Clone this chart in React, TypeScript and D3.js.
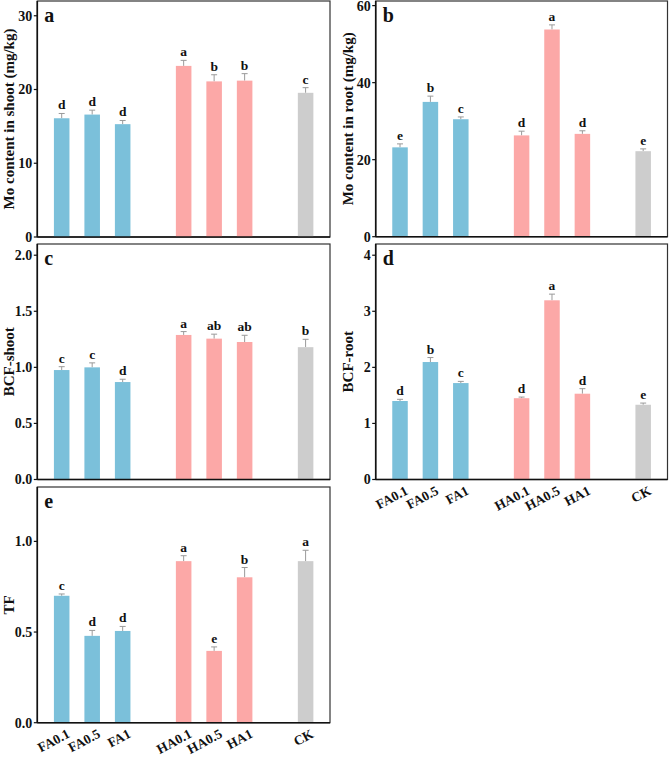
import { scaleLinear, scalePoint } from "d3";

const slots = ["FA0.1", "FA0.5", "FA1", "gap1", "HA0.1", "HA0.5", "HA1", "gap2", "CK"];
const groups = ["FA0.1", "FA0.5", "FA1", "HA0.1", "HA0.5", "HA1", "CK"];
const groupColors = ["#7bc0da", "#7bc0da", "#7bc0da", "#fca8a7", "#fca8a7", "#fca8a7", "#cdcdcd"];

const shootMo = [16.1, 16.6, 15.3, 23.2, 21.1, 21.2, 19.55];
const shootMoErr = [0.65, 0.6, 0.5, 0.75, 0.9, 0.95, 0.7];
const shootMoSig = ["d", "d", "d", "a", "b", "b", "c"];
const shootMoTicks = [0, 10, 20, 30];

const rootMo = [23.2, 35.0, 30.5, 26.3, 53.8, 26.7, 22.2];
const rootMoErr = [0.9, 1.5, 0.6, 1.1, 1.2, 0.8, 0.6];
const rootMoSig = ["e", "b", "c", "d", "a", "d", "e"];
const rootMoTicks = [0, 20, 40, 60];

const bcfShoot = [0.976, 1.0, 0.869, 1.289, 1.256, 1.226, 1.18];
const bcfShootErr = [0.03, 0.04, 0.025, 0.03, 0.04, 0.06, 0.07];
const bcfShootSig = ["c", "c", "d", "a", "ab", "ab", "b"];
const bcfShootTicks = [0, 0.5, 1.0, 1.5, 2.0];

const bcfRoot = [1.4, 2.095, 1.72, 1.45, 3.196, 1.53, 1.333];
const bcfRootErr = [0.03, 0.08, 0.03, 0.02, 0.11, 0.09, 0.03];
const bcfRootSig = ["d", "b", "c", "d", "a", "d", "e"];
const bcfRootTicks = [0, 1, 2, 3, 4];

const tf = [0.7, 0.479, 0.506, 0.891, 0.396, 0.802, 0.891];
const tfErr = [0.01, 0.03, 0.025, 0.03, 0.022, 0.054, 0.06];
const tfSig = ["c", "d", "d", "a", "e", "b", "a"];
const tfTicks = [0, 0.5, 1.0];

const font = "'Liberation Serif', 'Times New Roman', serif";

type PanelProps = {
  letter: string;
  title: string;
  values: number[];
  errors: number[];
  sig: string[];
  ticks: number[];
  tickFormat: (v: number) => string;
  yMax: number;
  left: number;
  right: number;
  top: number;
  bottom: number;
  showX: boolean;
};

function Panel({ letter, title, values, errors, sig, ticks, tickFormat, yMax, left, right, top, bottom, showX }: PanelProps) {
  const x = scalePoint<string>().domain(slots).range([left, right]).padding(0.8);
  const y = scaleLinear().domain([0, yMax]).range([bottom, top]);
  const barWidth = x.step() * 0.51;
  const capHalf = 3;

  return (
    <g fontFamily={font} fontWeight="bold">
      <rect x={left} y={top} width={right - left} height={bottom - top} fill="none" stroke="#333" strokeWidth={1.2} />

      {groups.map((g, i) => {
        const cx = x(g) ?? 0;
        const yTop = y(values[i]);
        const yErr = y(values[i] + errors[i]);
        return (
          <g key={g}>
            <line x1={cx} x2={cx} y1={yTop} y2={yErr} stroke="#9a9a9a" strokeWidth={1} />
            <line x1={cx - capHalf} x2={cx + capHalf} y1={yErr} y2={yErr} stroke="#9a9a9a" strokeWidth={1} />
            <rect x={cx - barWidth / 2} y={yTop} width={barWidth} height={bottom - yTop} fill={groupColors[i]} />
            <text x={cx} y={yErr - 4} textAnchor="middle" fontSize={13.5} fill="#111">
              {sig[i]}
            </text>
            {showX ? (
              <text
                textAnchor="end"
                fontSize={13.5}
                fill="#111"
                transform={`translate(${cx + 9}, ${bottom + 14}) rotate(-28)`}
              >
                {g}
              </text>
            ) : null}
          </g>
        );
      })}

      <line x1={left} x2={left} y1={top} y2={bottom} stroke="#111" strokeWidth={1.6} />
      <line x1={left} x2={right} y1={bottom} y2={bottom} stroke="#111" strokeWidth={1.6} />

      {ticks.map((t) => (
        <g key={t}>
          <line x1={left - 3.5} x2={left} y1={y(t)} y2={y(t)} stroke="#111" strokeWidth={1.2} />
          <text x={left - 5} y={y(t)} dy="0.35em" textAnchor="end" fontSize={14} fill="#111">
            {tickFormat(t)}
          </text>
        </g>
      ))}

      <text x={left + 7} y={top + 21} fontSize={20} fill="#111">
        {letter}
      </text>

      <text
        transform={`translate(${left - 23}, ${(top + bottom) / 2}) rotate(-90)`}
        textAnchor="middle"
        fontSize={15}
        fill="#111"
      >
        {title}
      </text>
    </g>
  );
}

const intFmt = (v: number) => String(v);
const decFmt = (v: number) => v.toFixed(1);

export default function App() {
  const L1 = 37.3;
  const R1 = 330;
  const L2 = 375.7;
  const R2 = 667.5;

  return (
    <svg
      width={669}
      height={757}
      viewBox="0 0 669 757"
      style={{ position: "absolute", left: 0, top: 0, background: "#fff" }}
    >
      <Panel letter="a" title="Mo content in shoot (mg/kg)" values={shootMo} errors={shootMoErr} sig={shootMoSig}
        ticks={shootMoTicks} tickFormat={intFmt} yMax={32} left={L1} right={R1} top={1} bottom={237} showX={false} />
      <Panel letter="b" title="Mo content in root (mg/kg)" values={rootMo} errors={rootMoErr} sig={rootMoSig}
        ticks={rootMoTicks} tickFormat={intFmt} yMax={61.2} left={L2} right={R2} top={1} bottom={236.7} showX={false} />
      <Panel letter="c" title="BCF-shoot" values={bcfShoot} errors={bcfShootErr} sig={bcfShootSig}
        ticks={bcfShootTicks} tickFormat={decFmt} yMax={2.1} left={L1} right={R1} top={244} bottom={479.5} showX={false} />
      <Panel letter="d" title="BCF-root" values={bcfRoot} errors={bcfRootErr} sig={bcfRootSig}
        ticks={bcfRootTicks} tickFormat={intFmt} yMax={4.2} left={L2} right={R2} top={244} bottom={479.5} showX={true} />
      <Panel letter="e" title="TF" values={tf} errors={tfErr} sig={tfSig}
        ticks={tfTicks} tickFormat={decFmt} yMax={1.3} left={L1} right={R1} top={487} bottom={722.7} showX={true} />
    </svg>
  );
}
